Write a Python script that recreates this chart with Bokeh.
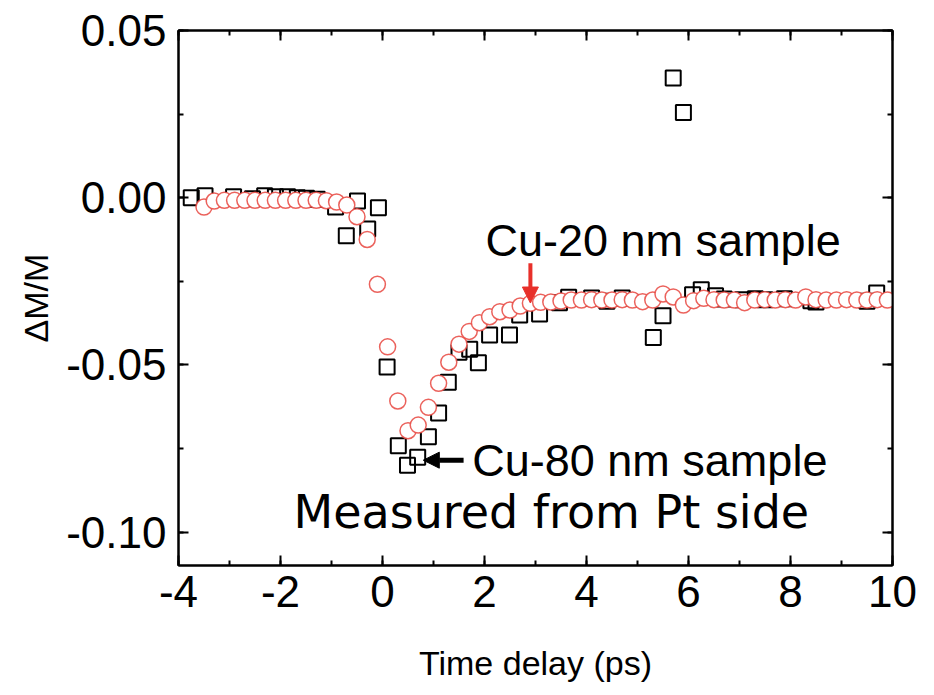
from bokeh.plotting import figure
from bokeh.models import (LinearAxis, SingleIntervalTicker, NumeralTickFormatter,
                          CustomJSTickFormatter, Range1d, Label, Arrow, NormalHead,
                          ColumnDataSource)
from bokeh.embed import file_html
from bokeh.resources import INLINE

# ---- data ----
cu20_t = [-3.5, -3.3, -3.1, -2.9, -2.7, -2.5, -2.3, -2.1, -1.9, -1.7, -1.5, -1.3,
          -1.1, -0.9, -0.7, -0.5, -0.3, -0.1, 0.1, 0.3, 0.5, 0.7, 0.9, 1.1, 1.3,
          1.5, 1.7, 1.9, 2.1, 2.3, 2.5, 2.7, 2.9, 3.1, 3.3, 3.5, 3.7, 3.9, 4.1,
          4.3, 4.5, 4.7, 4.9, 5.1, 5.3, 5.5, 5.7, 5.9, 6.1, 6.3, 6.5, 6.7, 6.9,
          7.1, 7.3, 7.5, 7.7, 7.9, 8.1, 8.3, 8.5, 8.7, 8.9, 9.1, 9.3, 9.5, 9.7, 9.9]
cu20_dm = [-0.0028, -0.0010, -0.0008, -0.0008, -0.0008, -0.0008, -0.0008, -0.0008,
           -0.0008, -0.0008, -0.0008, -0.0008, -0.0009, -0.0013, -0.0022, -0.0057,
           -0.0125, -0.0259, -0.0446, -0.0608, -0.0697, -0.0680, -0.0627, -0.0555,
           -0.0492, -0.0438, -0.0400, -0.0374, -0.0356, -0.0341, -0.0336, -0.0324,
           -0.0316, -0.0313, -0.0312, -0.0309, -0.0306, -0.0306, -0.0305, -0.0306,
           -0.0306, -0.0305, -0.0306, -0.0311, -0.0306, -0.0288, -0.0297, -0.0321,
           -0.0308, -0.0301, -0.0305, -0.0306, -0.0306, -0.0314, -0.0306, -0.0305,
           -0.0306, -0.0305, -0.0306, -0.0297, -0.0305, -0.0306, -0.0306, -0.0305,
           -0.0306, -0.0306, -0.0305, -0.0306]

cu80_t = [-3.75, -3.48, -2.92, -2.55, -2.31, -2.10, -1.86, -1.67, -1.49, -1.28,
          -0.92, -0.71, -0.49, -0.29, -0.08, 0.09, 0.31, 0.49, 0.69, 0.90, 1.10,
          1.29, 1.50, 1.71, 1.88, 2.10, 2.49, 2.69, 3.08, 3.47, 3.65, 4.10, 4.40,
          4.70, 5.31, 5.50, 5.70, 5.90, 6.08, 6.25, 6.53, 6.70, 7.06, 7.31, 7.50,
          7.88, 8.40, 8.50, 9.50, 9.69]
cu80_dm = [0.0000, 0.0006, 0.0003, -0.0003, 0.0006, 0.0003, 0.0003, 0.0000, -0.0002,
           -0.0005, -0.0028, -0.0114, -0.0010, -0.0094, -0.0030, -0.0506, -0.0742,
           -0.0800, -0.0776, -0.0715, -0.0644, -0.0552, -0.0462, -0.0453, -0.0494,
           -0.0411, -0.0411, -0.0351, -0.0348, -0.0314, -0.0298, -0.0300, -0.0310,
           -0.0300, -0.0418, -0.0353, 0.0358, 0.0255, -0.0290, -0.0275, -0.0293,
           -0.0303, -0.0305, -0.0302, -0.0305, -0.0302, -0.0308, -0.0312, -0.0310,
           -0.0285]

x_label = "Time delay (ps)"
y_label = "ΔM/M"
label_20 = "Cu-20 nm sample"
label_80 = "Cu-80 nm sample"
label_side = "Measured from Pt side"

RED = "#e8473f"
FONT = "Liberation Sans"

p = figure(frame_width=714, frame_height=535,
           min_border_left=178, min_border_right=34,
           min_border_top=30, min_border_bottom=122,
           x_range=Range1d(-4, 10), y_range=Range1d(-0.11, 0.05),
           output_backend="svg", toolbar_location=None,
           x_axis_location=None, y_axis_location=None)
p.grid.visible = False
p.outline_line_color = "black"
p.outline_line_width = 2
p.background_fill_color = "white"
p.border_fill_color = "white"


def make_axis(ticker, show_labels, label=None):
    ax = LinearAxis(ticker=ticker)
    ax.axis_line_width = 2
    ax.axis_line_color = "black"
    ax.major_tick_in = 10
    ax.major_tick_out = 0
    ax.minor_tick_in = 5
    ax.minor_tick_out = 0
    ax.major_tick_line_width = 2
    ax.minor_tick_line_width = 2
    if show_labels:
        ax.major_label_text_font = FONT
        ax.major_label_text_font_size = "44px"
        ax.major_label_text_color = "black"
        if label:
            ax.axis_label = label
            ax.axis_label_text_font = FONT
            ax.axis_label_text_font_style = "normal"
            ax.axis_label_text_color = "black"
    else:
        ax.formatter = CustomJSTickFormatter(code="return '';")
        ax.major_label_standoff = 0
    return ax


xt = lambda: SingleIntervalTicker(interval=2, num_minor_ticks=2)
yt = lambda: SingleIntervalTicker(interval=0.05, num_minor_ticks=2)

xb = make_axis(xt(), True, x_label)
xb.formatter = NumeralTickFormatter(format="0")
xb.major_label_standoff = 10
xb.axis_label_text_font_size = "34px"
xb.axis_label_standoff = 34
p.add_layout(xb, "below")

yl = make_axis(yt(), True, y_label)
yl.formatter = NumeralTickFormatter(format="0.00")
yl.major_label_standoff = 12
yl.axis_label_text_font_size = "34px"
yl.axis_label_standoff = 8
p.add_layout(yl, "left")

p.add_layout(make_axis(xt(), False), "above")
p.add_layout(make_axis(yt(), False), "right")

src80 = ColumnDataSource(dict(t=cu80_t, dm=cu80_dm))
src20 = ColumnDataSource(dict(t=cu20_t, dm=cu20_dm))

p.scatter("t", "dm", source=src80, marker="square", size=15,
          fill_color=None, line_color="black", line_width=2)
p.scatter("t", "dm", source=src20, marker="circle", size=16,
          fill_color="white", line_color=RED, line_alpha=0.85, line_width=1.5)

# arrows
p.add_layout(Arrow(x_start=2.9, y_start=-0.0196, x_end=2.9, y_end=-0.0315,
                   line_color="#e8302a", line_width=4,
                   end=NormalHead(size=16, fill_color="#e8302a",
                                  line_color="#e8302a", line_width=1)))
p.add_layout(Arrow(x_start=1.59, y_start=-0.0785, x_end=0.80, y_end=-0.0785,
                   line_color="black", line_width=5,
                   end=NormalHead(size=16, fill_color="black",
                                  line_color="black", line_width=1)))

# texts
p.add_layout(Label(x=2.02, y=-0.0127, text=label_20, text_font=FONT,
                   text_font_size="45px", text_baseline="middle",
                   text_color="black"))
p.add_layout(Label(x=1.76, y=-0.0785, text=label_80, text_font=FONT,
                   text_font_size="45px", text_baseline="middle",
                   text_color="black"))
p.add_layout(Label(x=-1.745, y=-0.0940, text=label_side, text_font="DejaVu Sans",
                   text_font_size="46px", text_baseline="middle",
                   text_color="black"))

open("out.html", "w").write(file_html(p, INLINE))
